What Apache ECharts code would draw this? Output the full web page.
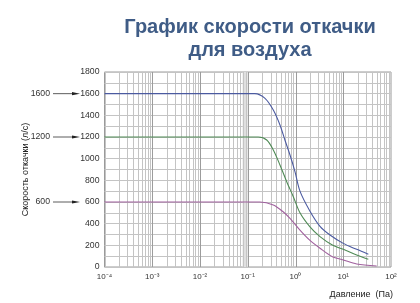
<!DOCTYPE html>
<html><head><meta charset="utf-8">
<script src="https://cdn.jsdelivr.net/npm/echarts@6/dist/echarts.min.js"></script>
<style>html,body{margin:0;padding:0;background:#fff}#c{width:420px;height:303px}</style>
</head><body><div id="c"></div>
<script>
// Pressure (Pa) / pumping speed (l/s)
var bluePressure = [1e-4, 0.14, 0.23, 0.343, 0.473, 0.6, 0.767, 0.975, 1.24, 2.01, 3.26, 5.28, 10, 19.1, 33.5];
var blueSpeed    = [1600, 1600, 1557, 1449, 1311, 1172, 1034, 880, 700, 515, 375, 295, 218, 163, 118];
var greenPressure = [1e-4, 0.166, 0.25, 0.343, 0.473, 0.655, 0.9, 1.24, 2.01, 3.26, 5.9, 10, 19.1, 33.5];
var greenSpeed    = [1200, 1200, 1172, 1080, 942, 787, 649, 500, 370, 280, 203, 163, 111, 71];
var pinkPressure = [1e-4, 0.18, 0.343, 0.55, 0.767, 1.24, 2.01, 3.26, 5.9, 10, 19.1, 50];
var pinkSpeed    = [600, 600, 572, 510, 449, 340, 245, 173, 95, 65, 28, 9];
var yTicks = [0, 200, 400, 600, 800, 1000, 1200, 1400, 1600, 1800];
var xDecades = [-4, -3, -2, -1, 0, 1, 2];
var markedLevels = [1600, 1200, 600];
var shadeBand = [0.078, 0.1];
var sup = {'-':'⁻','0':'⁰','1':'¹','2':'²','3':'³','4':'⁴'};

function zip(a, b) { return a.map(function (v, i) { return [v, b[i]]; }); }
var gridX = [];
xDecades.slice(0, -1).forEach(function (d) {
  for (var m = 1; m <= 9; m++) gridX.push([m * Math.pow(10, d), m === 1 && d > -4 ? 1 : 0]);
});
var FONT = 'Liberation Sans, Arial, sans-serif';

var chart = echarts.init(document.getElementById('c'));
chart.setOption({
  animation: false,
  textStyle: {fontFamily: FONT},
  title: [
    {text: 'График скорости откачки\nдля воздуха', left: 245, textAlign: 'center', top: 11,
     textStyle: {fontSize: 20, fontWeight: 'bold', color: '#3f5c86', lineHeight: 23}},
    {text: 'Давление  (Па)', right: 22, top: 285, textStyle: {fontSize: 9, fontWeight: 'normal', color: '#222'}}
  ],
  grid: {left: 104.5, right: 29, top: 72, bottom: 36, show: true, borderColor: '#9a9a9a', borderWidth: 1},
  xAxis: {
    type: 'log', logBase: 10, min: 1e-4, max: 100,
    axisLine: {show: false}, axisTick: {show: false},
    splitLine: {show: false},
    axisLabel: {fontSize: 8, color: '#333', margin: 6,
      formatter: function (v) {
        var e = Math.round(Math.log10(v));
        return '10' + String(e).split('').map(function (c) { return sup[c]; }).join('');
      }}
  },
  yAxis: {
    type: 'value', min: 0, max: 1800, interval: 200,
    name: 'Скорость откачки (л/с)', nameLocation: 'middle', nameGap: 74,
    nameTextStyle: {fontSize: 9, color: '#222'},
    axisLine: {show: false}, axisTick: {show: false},
    axisLabel: {fontSize: 8.7, color: '#333', margin: 5, formatter: function (v) { return String(v); }},
    splitLine: {show: true, lineStyle: {color: '#c4c4c4', width: 1}},
    minorTick: {show: false, splitNumber: 2},
    minorSplitLine: {show: true, lineStyle: {color: '#c4c4c4', width: 1}}
  },
  series: [
    {type: 'custom', silent: true, z: 0, data: [shadeBand],
     renderItem: function (params, api) {
       var a = api.coord([api.value(0), 1800]), b = api.coord([api.value(1), 0]);
       return {type: 'rect', shape: {x: a[0], y: a[1], width: b[0] - a[0], height: b[1] - a[1]},
         style: {fill: '#e0e0e0'}};
     }},
    {type: 'custom', silent: true, z: 1, data: gridX,
     renderItem: function (params, api) {
       var a = api.coord([api.value(0), 0]), b = api.coord([api.value(0), 1800]);
       var major = api.value(1) === 1;
       var x = Math.round(a[0]) + 0.5;
       return {type: 'line', shape: {x1: x, y1: a[1], x2: x, y2: b[1]},
         style: {stroke: major ? '#9c9c9c' : '#c4c4c4', lineWidth: 1}};
     }},
    {type: 'line', z: 3, data: zip(bluePressure, blueSpeed), smooth: 0.3, showSymbol: false,
     lineStyle: {color: '#4b5aa0', width: 1.1}},
    {type: 'line', z: 3, data: zip(greenPressure, greenSpeed), smooth: 0.3, showSymbol: false,
     lineStyle: {color: '#4f8a55', width: 1.1}},
    {type: 'line', z: 3, data: zip(pinkPressure, pinkSpeed), smooth: 0.3, showSymbol: false,
     lineStyle: {color: '#a0609e', width: 1.1}}
  ]
});

var g = [];
markedLevels.forEach(function (v) {
  var y = chart.convertToPixel({yAxisIndex: 0}, v);
  g.push({type: 'text', x: 50, y: y, style: {text: String(v), align: 'right', verticalAlign: 'middle',
    fontSize: 8.7, fill: '#333', fontFamily: FONT}});
  g.push({type: 'line', shape: {x1: 53, y1: y, x2: 74, y2: y}, style: {stroke: '#333', lineWidth: 0.8}});
  g.push({type: 'polygon', shape: {points: [[72, y - 1.6], [80, y], [72, y + 1.6]]}, style: {fill: '#222'}});
});
chart.setOption({graphic: g});
</script></body></html>
